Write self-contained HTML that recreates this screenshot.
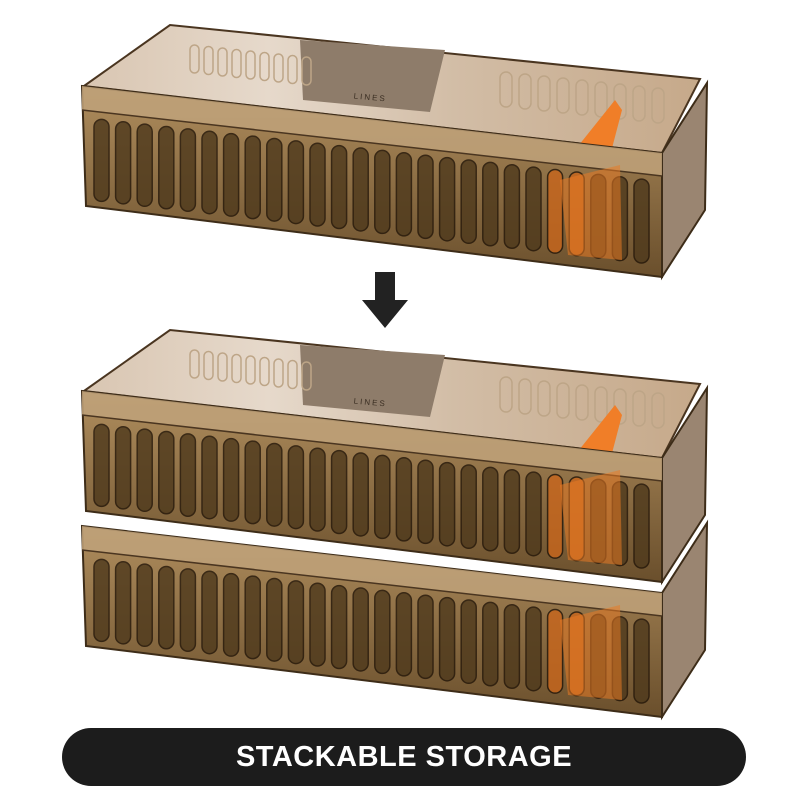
<!DOCTYPE html>
<html><head><meta charset="utf-8"><style>
html,body{margin:0;padding:0;background:#fff;width:800px;height:800px;overflow:hidden}
svg{display:block}
.pill{position:absolute;left:62px;top:728px;width:684px;height:58px;background:#1c1c1c;border-radius:29px;color:#fff;font:bold 29px "Liberation Sans",sans-serif;text-align:center;line-height:58px;letter-spacing:0.5px}
</style></head><body>
<svg id="s" width="800" height="800" viewBox="0 0 800 800" xmlns="http://www.w3.org/2000/svg">
<defs>
<linearGradient id="top" x1="0" y1="0" x2="1" y2="0">
<stop offset="0" stop-color="#d9c6b2"/><stop offset="0.3" stop-color="#e6d9cb"/><stop offset="0.6" stop-color="#d2bda6"/><stop offset="1" stop-color="#c6a98a"/></linearGradient>
<linearGradient id="front" x1="0" y1="0" x2="0" y2="1">
<stop offset="0" stop-color="#b08e5e"/><stop offset="1" stop-color="#6a4f2c"/></linearGradient>
</defs>
<g id="boxes"></g>
<polygon points="375,272 395,272 395,300 408,300 385,328 362,300 375,300" fill="#222"/>
</svg>
<div class="pill">STACKABLE STORAGE</div>
<script>
function box(dy, lid){
  let s='';
  const F=(x,y)=>x+','+(y+dy);
  if(lid){
    s+=`<polygon points="${F(84,86)} ${F(170,25)} ${F(700,79)} ${F(662,153)}" fill="url(#top)" stroke="#4a3520" stroke-width="2"/>`;
    s+=`<polygon points="${F(300,40)} ${F(445,50)} ${F(430,112)} ${F(303,100)}" fill="#8e7c6a"/>`;
    s+=`<text x="370" y="${100+dy}" font-family="Liberation Sans,sans-serif" font-size="8" fill="#3a2e22" text-anchor="middle" letter-spacing="2" transform="rotate(5 370 ${100+dy})">LINES</text>`;
    for(let i=0;i<9;i++){let x=190+i*14;s+=`<rect x="${x}" y="${45+dy+i*1.5}" width="9" height="28" rx="4.5" fill="none" stroke="#bda587" stroke-width="1.5"/>`}
    for(let i=0;i<9;i++){let x=500+i*19;s+=`<rect x="${x}" y="${72+dy+i*2}" width="12" height="35" rx="6" fill="none" stroke="#bda587" stroke-width="1.5"/>`}
    s+=`<polygon points="${F(575,150)} ${F(615,100)} ${F(622,110)} ${F(605,175)}" fill="#f07e28"/>`;
  }
  s+=`<polygon points="${F(662,153)} ${F(707,83)} ${F(705,210)} ${F(662,277)}" fill="#9a8571" stroke="#3d2c18" stroke-width="2"/>`;
  s+=`<polygon points="${F(82,86)} ${F(662,153)} ${F(662,277)} ${F(86,206)}" fill="url(#front)" stroke="#3d2c18" stroke-width="2"/>`;
  s+=`<polygon points="${F(82,86)} ${F(662,153)} ${F(662,176)} ${F(82,110)}" fill="#bfa27a" opacity="0.85"/>`;
  s+=`<line x1="82" y1="${110+dy}" x2="662" y2="${176+dy}" stroke="#4a3520" stroke-width="1.5"/>`;
  const n=26;
  for(let i=0;i<n;i++){
    let x=94+i*21.6; let t=(x-82)/578;
    let yt=118+t*64+dy, yb=200+t*66+dy;
    let col = (i>=21&&i<=22)?'#c9661c':'#4e391c';
    s+=`<rect x="${x}" y="${yt}" width="15" height="${yb-yt}" rx="7.5" fill="${col}" opacity="0.8" stroke="#221508" stroke-width="1.5"/>`;
  }
  s+=`<polygon points="${F(560,180)} ${F(620,165)} ${F(622,260)} ${F(568,255)}" fill="#e87a25" opacity="0.55"/>`;
  return s;
}
document.getElementById('boxes').innerHTML = box(0,true)+box(305,true)+box(440,false);
</script>
</body></html>
